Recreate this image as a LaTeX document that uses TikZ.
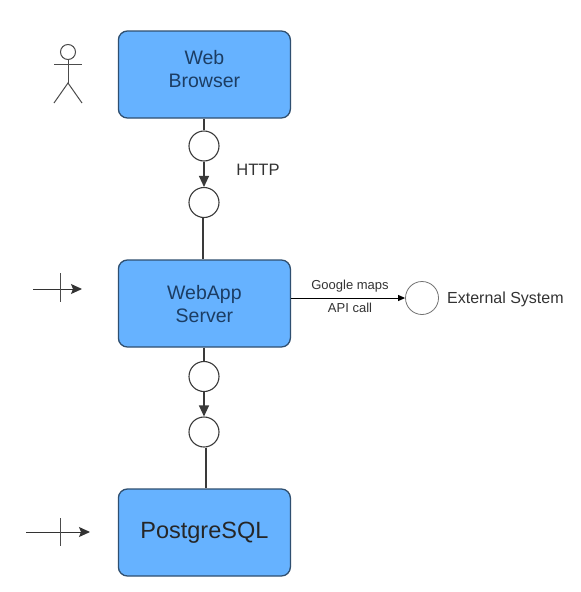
\documentclass[tikz,border=0pt]{standalone}
\usepackage{fontspec}
\setmainfont{Liberation Sans}
\usetikzlibrary{arrows.meta}
\definecolor{boxfill}{HTML}{66B2FF}
\definecolor{boxline}{HTML}{2F4F70}
\definecolor{boxtext}{HTML}{1C3D63}
\definecolor{inkgrey}{HTML}{3A3A3A}
\tikzset{
  compbox/.style={draw=boxline,line width=1.3pt,fill=boxfill,rounded corners=9pt,minimum width=172pt,minimum height=87pt,align=center,inner sep=0pt},
  boxlabel/.style={align=center,inner sep=0pt,text=boxtext,font=\fontsize{19.5}{23}\selectfont},
  port/.style={circle,draw=inkgrey,line width=1.1pt,fill=white,minimum size=30pt,inner sep=0pt},
  extport/.style={circle,draw=black!55,line width=0.8pt,fill=white,minimum size=33pt,inner sep=0pt},
  wire/.style={draw=inkgrey,line width=1.2pt},
  flow/.style={wire,-{Triangle[length=11pt,width=10pt]}},
  thinflow/.style={draw=black,line width=1pt,-{Triangle[length=7pt,width=6pt]}},
  entry/.style={draw=black!80,line width=1pt,-{Stealth[length=11pt,width=10pt,inset=2pt]}},
  actorline/.style={draw=black!70,line width=1pt},
  lbl/.style={inner sep=0pt,text=black!80},
}
\begin{document}
\begin{tikzpicture}[x=1pt,y=-1pt]
\useasboundingbox[fill=white] (0,0) rectangle (581,592);
% boxes
\node[compbox] (browser) at (204.4,74.5) {};
\node[boxlabel] (browserlabel) at (204.4,69.5) {Web\\Browser};
\node[compbox] (server) at (204.4,303.5) {};
\node[boxlabel] (serverlabel) at (204.4,304.5) {WebApp\\Server};
\node[compbox,text=black!85,font=\fontsize{23.5}{28}\selectfont] (db) at (204.4,532.5) {PostgreSQL};
% ports
\node[port] (p1) at (204,146) {};
\node[port] (p2) at (204,202.5) {};
\node[port] (p3) at (204,376.5) {};
\node[port] (p4) at (204,432) {};
\node[extport] (ext) at (422,298) {};
% connectors
\draw[wire] (browser.south -| p1) -- (p1.north);
\draw[flow] (p1.south) -- (p2.north);
\draw[wire] ([xshift=-1pt]p2.south) -- ([xshift=-1pt]p2.south |- server.north);
\draw[wire] (server.south -| p3) -- (p3.north);
\draw[flow] (p3.south) -- (p4.north);
\draw[wire] ([xshift=2pt]p4.south) -- ([xshift=2pt]p4.south |- db.north);
\draw[thinflow] (server.east |- ext) -- (ext.west);
% labels
\node[lbl,font=\fontsize{16.5}{20}\selectfont] (http) at (258,170) {HTTP};
\node[lbl,font=\fontsize{13}{16}\selectfont] (gm) at (350,286) {Google maps};
\node[lbl,font=\fontsize{13}{16}\selectfont] (api) at (350,307.5) {API call};
\node[lbl,anchor=west,font=\fontsize{16}{20}\selectfont] (extlabel) at (447,299) {External System};
% actor
\node[circle,draw=black!70,line width=1pt,minimum size=15pt,inner sep=0pt] (head) at (68,52) {};
\coordinate (armL) at (54,64);
\coordinate (armR) at (82,64);
\coordinate (hip) at (68,83);
\coordinate (legL) at (54,103);
\coordinate (legR) at (82,103);
\draw[actorline] (head.south) -- (hip);
\draw[actorline] (armL) -- (armR);
\draw[actorline] (legL) -- (hip) -- (legR);
% entry points
\coordinate (e1a) at (33,289);
\coordinate (e1b) at (82,289);
\coordinate (t1a) at (60,273);
\coordinate (t1b) at (60,302);
\draw[entry] (e1a) -- (e1b);
\draw[actorline] (t1a) -- (t1b);
\coordinate (e2a) at (26,532);
\coordinate (e2b) at (90,532);
\coordinate (t2a) at (60,518);
\coordinate (t2b) at (60,546);
\draw[entry] (e2a) -- (e2b);
\draw[actorline] (t2a) -- (t2b);
\end{tikzpicture}
\end{document}
